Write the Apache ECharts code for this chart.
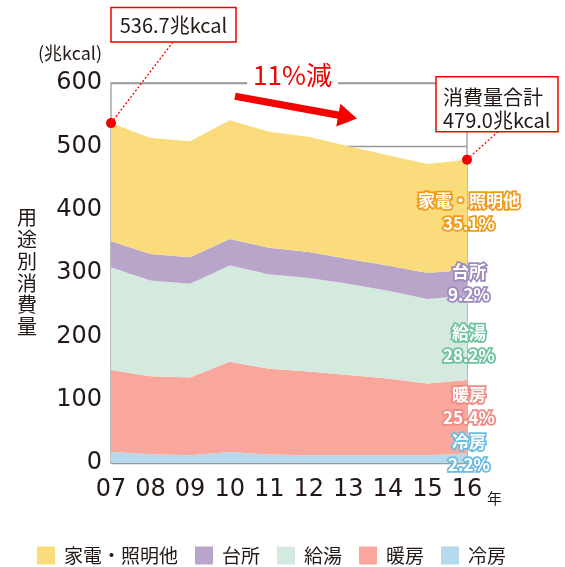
<!DOCTYPE html>
<html><head><meta charset="utf-8">
<script src="https://cdn.jsdelivr.net/npm/echarts@6/dist/echarts.min.js"></script>
<style>html,body{margin:0;padding:0;background:#fff}#c{width:565px;height:567px}</style>
</head><body><div id="c"></div>
<script>
// ---- data ----
const years = ['07','08','09','10','11','12','13','14','15','16'];
const yTicks = [0, 100, 200, 300, 400, 500, 600];
// bottom -> top of stack
const seriesNames = ['冷房', '暖房', '給湯', '台所', '家電・照明他'];
const reibo      = [17.4, 13.8, 12.2, 17.4, 13.3, 12.2, 12.2, 12.2, 12.2, 14.9];
const danbo      = [129.6, 123.2, 122.8, 142.6, 135.7, 132.4, 126.8, 121.3, 113.4, 116.1];
const kyuto      = [162.0, 151.0, 148.0, 152.0, 149.0, 147.4, 144.0, 138.5, 133.4, 133.0];
const daidokoro  = [41.0, 42.0, 42.0, 41.5, 41.7, 41.0, 39.0, 40.0, 41.0, 41.0];
const kaden      = [186.7, 183.0, 183.0, 187.5, 183.3, 182.0, 178.0, 174.0, 172.0, 174.0];
const shares16   = ['2.2%', '25.4%', '28.2%', '9.2%', '35.1%'];
const legendOrder = ['家電・照明他', '台所', '給湯', '暖房', '冷房'];

// ---- styles ----
const areaColors  = ['#B4DAEC', '#F9A79D', '#D5EADF', '#B8A5C9', '#FADC7D'];
const labelColors = ['#6CBCE2', '#EE8B85', '#6CC39D', '#9D8BBE', '#EE9B1D'];
const labelDy     = [-5, -11, 6.5, 0, -3];
const RED = '#F40000';
const DARK = '#231815';
const JP = '"Noto Sans CJK JP", "Noto Sans", sans-serif';
const NUM = '"DejaVu Sans", sans-serif';

const values = [reibo, danbo, kyuto, daidokoro, kaden];
const last = years.length - 1;
const totals = years.map((_, i) => values.reduce((s, arr) => s + arr[i], 0));

const series = values.map((arr, k) => {
  const base = values.slice(0, k).reduce((s, a) => s + a[last], 0);
  const mpData = [{
    coord: [last, base + arr[last] / 2],
    symbol: 'circle', symbolSize: 0,
    label: {
      show: true, position: 'inside', offset: [2, labelDy[k]],
      formatter: seriesNames[k] + '\n' + shares16[k],
      color: '#fff', fontSize: 17, fontWeight: 'bold', fontFamily: JP,
      lineHeight: 23, textBorderColor: labelColors[k], textBorderWidth: 3.5
    }
  }];
  if (k === values.length - 1) {
    [0, last].forEach(i => mpData.push({
      coord: [i, totals[i]], symbol: 'circle', symbolSize: 10,
      itemStyle: { color: RED }, label: { show: false }
    }));
  }
  return {
    name: seriesNames[k], type: 'line', stack: 'total',
    data: arr, symbol: 'none', showSymbol: false,
    lineStyle: { width: 0 }, itemStyle: { color: areaColors[k] },
    areaStyle: { color: areaColors[k], opacity: 1 },
    emphasis: { disabled: true },
    markPoint: { data: mpData, silent: true, animation: false }
  };
});

const chart = echarts.init(document.getElementById('c'));
const option = {
  animation: false,
  backgroundColor: '#fff',
  grid: { left: 111, right: 98, top: 83, bottom: 104, show: true, z: 3,
          borderColor: '#999', borderWidth: 1.3, backgroundColor: 'transparent' },
  legend: {
    data: legendOrder, left: 37, top: 546, padding: 0, itemWidth: 18, itemHeight: 18, itemGap: 17,
    icon: 'rect',
    textStyle: { fontSize: 19, lineHeight: 18, color: DARK, fontFamily: JP, padding: [0, 0, 0, 4] }
  },
  xAxis: {
    type: 'category', data: years, boundaryGap: false,
    axisLine: { show: false }, axisTick: { show: false },
    axisLabel: { fontSize: 24, color: DARK, fontFamily: NUM, margin: 15, interval: 0 },
    splitLine: { show: false }
  },
  yAxis: {
    type: 'value', min: yTicks[0], max: yTicks[yTicks.length - 1], interval: yTicks[1] - yTicks[0],
    axisLine: { show: false }, axisTick: { show: false },
    axisLabel: { fontSize: 24, color: DARK, fontFamily: NUM, margin: 9 },
    splitLine: { show: true, lineStyle: { color: '#999', width: 1.3 } }
  },
  series: series
};
chart.setOption(option);

const p07 = chart.convertToPixel({ gridIndex: 0 }, [0, totals[0]]);
const p16 = chart.convertToPixel({ gridIndex: 0 }, [last, totals[last]]);

function arrowPts(x1, y1, x2, y2, sw, hl, hw) {
  const dx = x2 - x1, dy = y2 - y1, L = Math.hypot(dx, dy);
  const ux = dx / L, uy = dy / L, nx = -uy, ny = ux;
  const bx = x2 - ux * hl, by = y2 - uy * hl;
  return [[x1 + nx * sw, y1 + ny * sw], [bx + nx * sw, by + ny * sw], [bx + nx * hw, by + ny * hw],
          [x2, y2], [bx - nx * hw, by - ny * hw], [bx - nx * sw, by - ny * sw], [x1 - nx * sw, y1 - ny * sw]];
}

const graphics = [
  { type: 'text', x: 27, y: 207, z: 10,
    style: { text: '用\n途\n別\n消\n費\n量', fill: DARK, font: '20px ' + JP, align: 'center', verticalAlign: 'top', lineHeight: 21.7 } },
  { type: 'text', x: 102, y: 53, z: 10,
    style: { text: '(兆kcal)', fill: DARK, font: '18px ' + JP, align: 'right', verticalAlign: 'middle' } },
  { type: 'text', x: 494.5, y: 498, z: 10,
    style: { text: '年', fill: DARK, font: '15px ' + JP, align: 'center', verticalAlign: 'middle' } },
  { type: 'text', x: 292.5, y: 75, z: 10,
    style: { text: '11%減', fill: RED, font: '26px ' + JP, align: 'center', verticalAlign: 'middle',
             backgroundColor: '#fff', padding: [0, 6] } },
  { type: 'polygon', z: 10, shape: { points: arrowPts(235, 96.3, 357, 118.5, 3.6, 19, 11.5) }, style: { fill: RED } },
  // connector lines
  { type: 'line', z: 8, shape: { x1: p07[0], y1: p07[1], x2: 173, y2: 42 },
    style: { stroke: RED, lineWidth: 1.3, lineDash: [2, 2] } },
  { type: 'line', z: 8, shape: { x1: p16[0], y1: p16[1], x2: 498, y2: 131.7 },
    style: { stroke: RED, lineWidth: 1.3, lineDash: [2, 2] } },
  // box 1
  { type: 'rect', z: 9, shape: { x: 111, y: 7.5, width: 125, height: 34.5 },
    style: { fill: '#fff', stroke: RED, lineWidth: 1.5 } },
  { type: 'text', z: 10, x: 173.5, y: 25,
    style: { text: totals[0].toFixed(1) + '兆kcal', fill: DARK, font: '20px ' + JP, align: 'center', verticalAlign: 'middle' } },
  // box 2
  { type: 'rect', z: 9, shape: { x: 436, y: 76.7, width: 122, height: 55 },
    style: { fill: '#fff', stroke: RED, lineWidth: 1.5 } },
  { type: 'text', z: 10, x: 443, y: 97,
    style: { text: '消費量合計', fill: DARK, font: '20px ' + JP, align: 'left', verticalAlign: 'middle' } },
  { type: 'text', z: 10, x: 443, y: 120,
    style: { text: totals[last].toFixed(1) + '兆kcal', fill: DARK, font: '20px ' + JP, align: 'left', verticalAlign: 'middle' } }
];
chart.setOption({ graphic: graphics });
</script>
</body></html>
